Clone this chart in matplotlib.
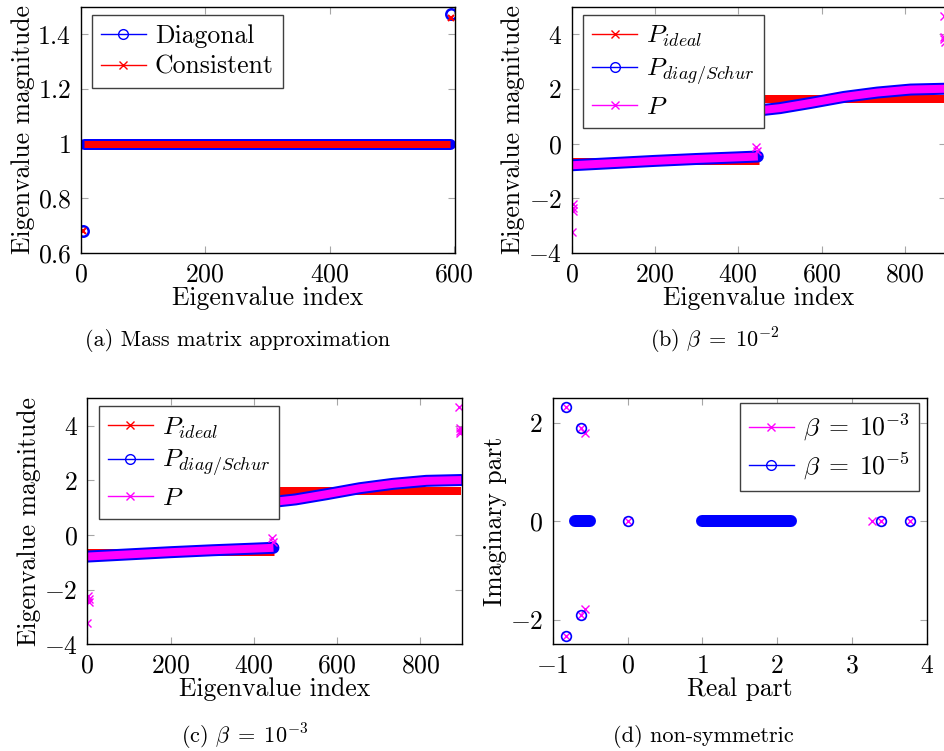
"""Eigenvalue plots for the preconditioner comparison (four panels with captions)."""

import matplotlib

matplotlib.use("Agg")
import matplotlib.pyplot as plt  # noqa: E402
from matplotlib.lines import Line2D  # noqa: E402
from matplotlib.ticker import FuncFormatter  # noqa: E402

BLUE, RED, MAGENTA = "#0000ff", "#ff0000", "#ff00ff"
TICK = "#a6a6a6"
FS = 18.5
W, H = 944, 751

# (a) mass matrix approximation: outliers + bulk at 1
a_diag_idx = [3, 596]
a_diag_val = [0.682, 1.473]
a_cons_idx = [3, 596]
a_cons_val = [0.680, 1.461]
a_bulk_idx = [5, 594]
a_bulk_val = [1.0, 1.0]

# (b), (c) eigenvalues vs index
ideal_lo_idx = [0, 449]
ideal_lo_val = [-0.63, -0.63]
ideal_hi_idx = [450, 898]
ideal_hi_val = [1.62, 1.62]
diag_lo_idx = [0, 100, 200, 300, 400, 447]
diag_lo_val = [-0.79, -0.71, -0.63, -0.56, -0.50, -0.47]
diag_hi_idx = [452, 500, 574, 654, 734, 814, 898]
diag_hi_val = [1.22, 1.30, 1.49, 1.71, 1.87, 1.98, 2.01]
p_out_idx = [0, 2, 3, 4, 443, 445, 893, 894, 895, 896]
p_out_val = [-3.23, -2.22, -2.35, -2.45, -0.12, -0.27, 4.67, 3.92, 3.82, 3.72]

# (d) non-symmetric: complex eigenvalues
d_cluster_re = [[-0.70, -0.50], [0.99, 2.18]]
d_cluster_im = [[0.0, 0.0], [0.0, 0.0]]
b3_re = [-0.82, -0.62, -0.57, 0.0, 3.265, 3.385, 3.777, -0.57, -0.62, -0.82]
b3_im = [2.33, 1.90, 1.79, 0.0, 0.0, 0.0, 0.0, -1.79, -1.90, -2.33]
b5_re = [-0.82, -0.62, 0.0, 3.385, 3.777, -0.62, -0.82]
b5_im = [2.33, 1.90, 0.0, 0.0, 0.0, -1.90, -2.33]

plt.rcParams.update({
    "font.family": "cmr10",
    "mathtext.fontset": "cm",
    "axes.unicode_minus": False,
    "font.size": FS,
})

PX = 0.72  # points per pixel at dpi 100


def make_axes(fig, left, right, top, bottom):
    return fig.add_axes([left / W, 1 - bottom / H, (right - left) / W, (bottom - top) / H])


def style(ax, xlim, ylim, xticks, yticks, xlabel, ylabel):
    ax.set_xlim(*xlim)
    ax.set_ylim(*ylim)
    ax.set_xticks(xticks)
    ax.set_yticks(yticks)
    fmt = FuncFormatter(lambda v, p: f"${v:g}$")
    ax.xaxis.set_major_formatter(fmt)
    ax.yaxis.set_major_formatter(fmt)
    ax.tick_params(direction="in", top=True, right=True, length=5, width=0.8,
                   color=TICK, labelsize=FS, pad=7)
    for s in ax.spines.values():
        s.set_linewidth(1.0)
    ax.set_xlabel(xlabel, fontsize=FS, labelpad=0)
    ax.set_ylabel(ylabel, fontsize=FS, labelpad=2)


def handle(color, marker):
    face = "none" if marker == "o" else color
    return Line2D([], [], color=color, lw=1.0, marker=marker, markersize=7 if marker == "o" else 6,
                  markerfacecolor=face, markeredgecolor=color, markeredgewidth=1.0)


def legend(ax, handles, labels, anchor, loc="upper left"):
    ax.legend(handles, labels, loc=loc, bbox_to_anchor=anchor, borderaxespad=0,
              fontsize=FS, handlelength=1.75, handletextpad=0.35, labelspacing=0.28,
              borderpad=0.35, fancybox=False, framealpha=1, edgecolor="0.25")


def plot_index_panel(ax):
    ax.plot(ideal_lo_idx, ideal_lo_val, color=RED, lw=7 * PX, solid_capstyle="butt")
    ax.plot(ideal_hi_idx, ideal_hi_val, color=RED, lw=8 * PX, solid_capstyle="butt")
    for ix, v in ((diag_lo_idx, diag_lo_val), (diag_hi_idx, diag_hi_val)):
        ax.plot(ix, v, color=BLUE, lw=12 * PX, solid_capstyle="round", solid_joinstyle="round")
        ax.plot(ix, v, color=MAGENTA, lw=8 * PX, solid_capstyle="butt", solid_joinstyle="round")
    ax.plot(p_out_idx, p_out_val, ls="none", marker="x", color=MAGENTA, markersize=6,
            markeredgewidth=1.0)
    style(ax, (0, 899), (-4, 5), [0, 200, 400, 600, 800], [-4, -2, 0, 2, 4],
          "Eigenvalue index", "Eigenvalue magnitude")
    legend(ax, [handle(RED, "x"), handle(BLUE, "o"), handle(MAGENTA, "x")],
           [r"$P_{ideal}$", r"$P_{diag/Schur}$", r"$P$"], (0.031, 0.968))


fig = plt.figure(figsize=(W / 100, H / 100), dpi=100)

# (a)
ax = make_axes(fig, 81, 455, 7, 253)
ax.plot(a_bulk_idx, a_bulk_val, color=BLUE, lw=11 * PX, solid_capstyle="round")
ax.plot(a_bulk_idx, a_bulk_val, color=RED, lw=7 * PX, solid_capstyle="butt")
ax.plot(a_diag_idx, a_diag_val, ls="none", marker="o", markersize=7.5, markerfacecolor="none",
        markeredgecolor=BLUE, markeredgewidth=1.8)
ax.plot(a_cons_idx, a_cons_val, ls="none", marker="x", markersize=5, color=RED,
        markeredgewidth=1.5)
style(ax, (0, 602), (0.6, 1.5), [0, 200, 400, 600], [0.6, 0.8, 1.0, 1.2, 1.4],
      "Eigenvalue index", "Eigenvalue magnitude")
legend(ax, [handle(BLUE, "o"), handle(RED, "x")], ["Diagonal", "Consistent"], (0.029, 0.967))

# (b) and (c)
plot_index_panel(make_axes(fig, 571.7, 946, 7, 253))
plot_index_panel(make_axes(fig, 87.3, 461.7, 398.3, 644.3))

# (d)
ax = make_axes(fig, 552.7, 926.7, 398.3, 644.3)
for re, im in zip(d_cluster_re, d_cluster_im):
    ax.plot(re, im, color=MAGENTA, lw=8 * PX, solid_capstyle="round")
ax.plot(b3_re, b3_im, ls="none", marker="x", markersize=6, color=MAGENTA, markeredgewidth=1.0)
for re, im in zip(d_cluster_re, d_cluster_im):
    ax.plot(re, im, color=BLUE, lw=12 * PX, solid_capstyle="round")
ax.plot(b5_re, b5_im, ls="none", marker="o", markersize=7, markerfacecolor="none",
        markeredgecolor=BLUE, markeredgewidth=1.2)
style(ax, (-1, 4), (-2.5, 2.5), [-1, 0, 1, 2, 3, 4], [-2, 0, 2], "Real part", "Imaginary part")
legend(ax, [handle(MAGENTA, "x"), handle(BLUE, "o")],
       [r"$\beta\;=\;10^{-3}$", r"$\beta\;=\;10^{-5}$"], (0.979, 0.980), loc="upper right")

# subfigure captions
CAP = 16
fig.text(237.5 / W, 1 - 341 / H, "(a) Mass matrix approximation", ha="center", va="center", fontsize=CAP)
fig.text(715 / W, 1 - 341 / H, r"(b) $\beta\;=\;10^{-2}$", ha="center", va="center", fontsize=CAP)
fig.text(245 / W, 1 - 737 / H, r"(c) $\beta\;=\;10^{-3}$", ha="center", va="center", fontsize=CAP)
fig.text(703.5 / W, 1 - 737 / H, "(d) non-symmetric", ha="center", va="center", fontsize=CAP)

fig.savefig("out.png", dpi=100)
